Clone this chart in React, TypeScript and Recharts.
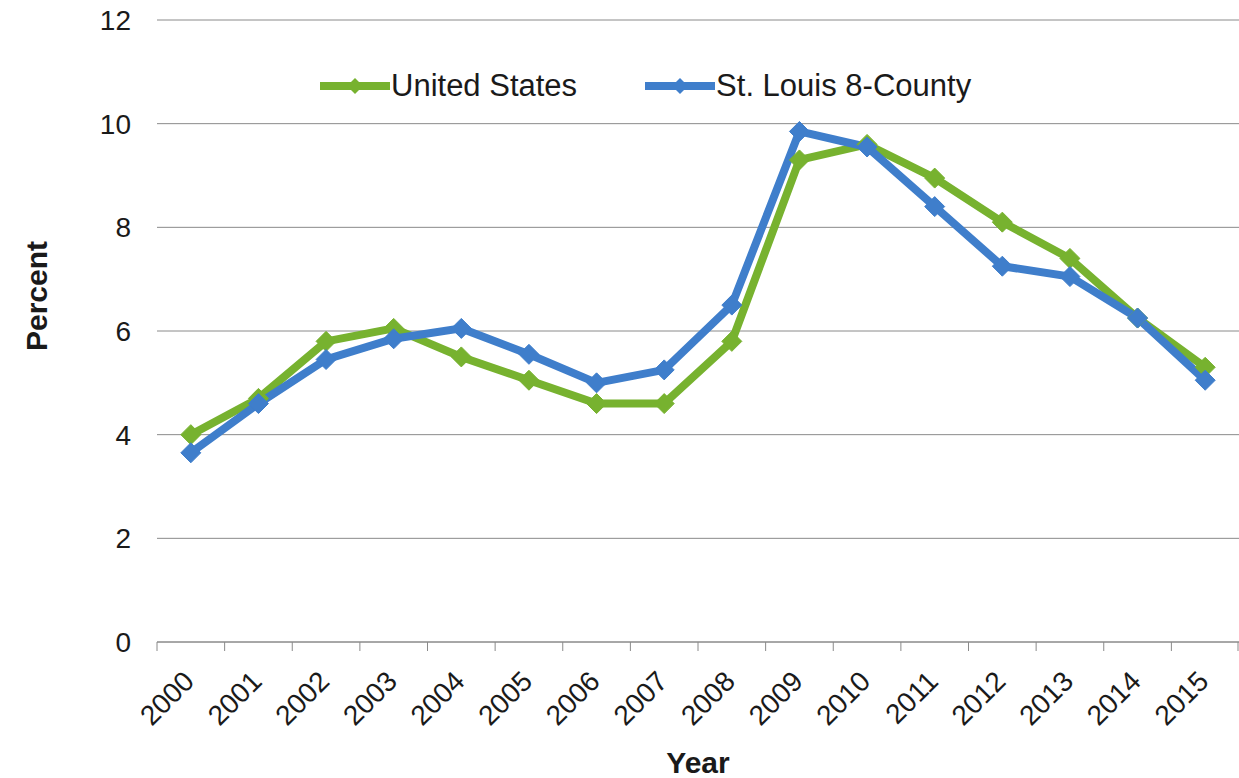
import React from 'react';
import { LineChart, Line, XAxis, YAxis, CartesianGrid, Legend, Label } from 'recharts';

const years = ['2000','2001','2002','2003','2004','2005','2006','2007','2008','2009','2010','2011','2012','2013','2014','2015'];
const usRate = [4.0, 4.7, 5.8, 6.05, 5.5, 5.05, 4.6, 4.6, 5.8, 9.3, 9.6, 8.95, 8.1, 7.4, 6.25, 5.3];
const stlRate = [3.65, 4.6, 5.45, 5.85, 6.05, 5.55, 5.0, 5.25, 6.5, 9.85, 9.55, 8.4, 7.25, 7.05, 6.25, 5.05];
const yTicks = [0, 2, 4, 6, 8, 10, 12];
const seriesOrder = ['us', 'stl'];

const data = years.map((y, i) => ({ year: y, us: usRate[i], stl: stlRate[i] }));

const FONT = '"Liberation Sans", Arial, Helvetica, sans-serif';
const GREEN = '#77b22f';
const BLUE = '#3f7ecb';
const W = 1239;
const H = 778;
const LEFT = 157;
const BAND = (W - LEFT) / years.length;

const Diamond = (props: any) => {
  const { cx, cy, stroke, index } = props;
  if (cx == null || cy == null) return null;
  const r = 10;
  return (
    <polygon
      key={`d-${index}`}
      points={`${cx},${cy - r} ${cx + r},${cy} ${cx},${cy + r} ${cx - r},${cy}`}
      fill={stroke}
      stroke={stroke}
      strokeWidth={1}
    />
  );
};

const YearTick = (props: any) => {
  const { x, y, payload, index } = props;
  const last = index === years.length - 1;
  return (
    <g>
      <line x1={x - BAND / 2} y1={y} x2={x - BAND / 2} y2={y + 9} stroke="#8a8a8a" strokeWidth={1} />
      {last && <line x1={x + BAND / 2 - 1} y1={y} x2={x + BAND / 2 - 1} y2={y + 9} stroke="#8a8a8a" strokeWidth={1} />}
      <text
        x={x + 5}
        y={y + 41}
        textAnchor="end"
        transform={`rotate(-45, ${x + 5}, ${y + 41})`}
        fontFamily={FONT}
        fontSize={28}
        fill="#1a1a1a"
      >
        {payload.value}
      </text>
    </g>
  );
};

const LegendContent = (props: any) => {
  const items = [...(props.payload || [])].sort(
    (a: any, b: any) => seriesOrder.indexOf(a.dataKey) - seriesOrder.indexOf(b.dataKey)
  );
  return (
    <div style={{ display: 'flex', alignItems: 'center', fontFamily: FONT, fontSize: 31, color: '#1a1a1a', whiteSpace: 'nowrap' }}>
      {items.map((p: any, i: number) => (
        <div key={i} style={{ display: 'flex', alignItems: 'center', marginRight: 68 }}>
          <svg width={70} height={20} style={{ marginRight: 1 }}>
            <line x1={0} y1={10} x2={70} y2={10} stroke={p.color} strokeWidth={8} />
            <polygon points="35,2 43,10 35,18 27,10" fill={p.color} />
          </svg>
          <span>{p.value}</span>
        </div>
      ))}
    </div>
  );
};

export default function App() {
  return (
    <div style={{ position: 'absolute', left: 0, top: 0, background: '#fff' }}>
      <LineChart width={W} height={H} data={data} margin={{ top: 20, right: 0, bottom: 0, left: 0 }}>
        <CartesianGrid horizontal vertical={false} stroke="#8a8a8a" strokeWidth={1} />
        <XAxis
          dataKey="year"
          height={136}
          tickLine={false}
          tickSize={0}
          tickMargin={0}
          padding={{ left: BAND / 2, right: BAND / 2 }}
          axisLine={{ stroke: '#8a8a8a', strokeWidth: 1 }}
          tick={<YearTick />}
          interval={0}
        >
          <Label
            content={(p: any) => {
              const vb = p.viewBox;
              return (
                <text x={vb.x + vb.width / 2} y={vb.y + 131} textAnchor="middle" fontFamily={FONT} fontSize={30} fontWeight="bold" fill="#1a1a1a">
                  Year
                </text>
              );
            }}
          />
        </XAxis>
        <YAxis
          width={LEFT}
          domain={[0, 12]}
          ticks={yTicks}
          axisLine={false}
          tickLine={false}
          tickSize={0}
          tickMargin={26}
          tick={{ fontFamily: FONT, fontSize: 28, fill: '#1a1a1a' }}
        >
          <Label
            content={(p: any) => {
              const vb = p.viewBox;
              const cy = vb.y + vb.height / 2 - 35;
              return (
                <text x={47} y={cy} textAnchor="middle" transform={`rotate(-90, 47, ${cy})`} fontFamily={FONT} fontSize={30} fontWeight="bold" fill="#1a1a1a">
                  Percent
                </text>
              );
            }}
          />
        </YAxis>
        <Legend
          verticalAlign="middle"
          layout="horizontal"
          align="center"
          content={<LegendContent />}
          wrapperStyle={{ top: 68, left: 320, width: 'auto' }}
        />
        <Line
          type="linear"
          dataKey="us"
          name="United States"
          stroke={GREEN}
          strokeWidth={8}
          dot={<Diamond />}
          activeDot={false}
          isAnimationActive={false}
        />
        <Line
          type="linear"
          dataKey="stl"
          name="St. Louis 8-County"
          stroke={BLUE}
          strokeWidth={8}
          dot={<Diamond />}
          activeDot={false}
          isAnimationActive={false}
        />
      </LineChart>
    </div>
  );
}
